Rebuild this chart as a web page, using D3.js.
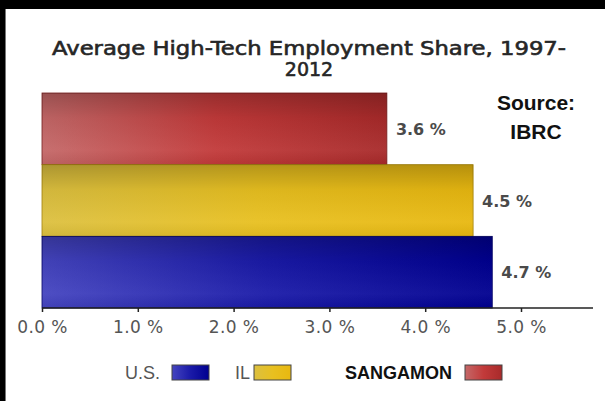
<!DOCTYPE html>
<html>
<head>
<meta charset="utf-8">
<script src="https://cdn.jsdelivr.net/npm/d3@7"></script>
<style>
  body { margin:0; padding:0; background:#fff; }
  svg { display:block; font-family: Arial, "Liberation Sans", sans-serif; }
</style>
</head>
<body>
<div id="chart"></div>
<script>
// data
var categories = ["SANGAMON", "IL", "U.S."];
var values = [3.6, 4.5, 4.7];
var xTicks = [0, 1, 2, 3, 4, 5];
var legendNames = ["U.S.", "IL", "SANGAMON"];
var titleLines = ["Average High-Tech Employment Share, 1997-", "2012"];
var sourceLines = ["Source:", "IBRC"];

var W = 605, H = 401;
var verdanaish = "'DejaVu Sans', Verdana, sans-serif";
var svg = d3.select("#chart").append("svg")
    .attr("width", W).attr("height", H);

var defs = svg.append("defs");

// gradient colours per series: left -> right
var grads = {
    "SANGAMON": {h:["#c46868","#c23a3a","#a82a2a"]},
    "IL":       {h:["#dcc040","#e8c020","#e8b810"]},
    "U.S.":     {h:["#4545c0","#1a1aa8","#000090"]}
};
var colKeys = Object.keys(grads);
colKeys.forEach(function(k, i){
    var g = defs.append("linearGradient").attr("id","gh"+i)
        .attr("x1","0").attr("y1","0").attr("x2","1").attr("y2","0");
    grads[k].h.forEach(function(c, j){
        g.append("stop").attr("offset", (j/(grads[k].h.length-1))).attr("stop-color", c);
    });
    // top shadow overlay
    var gv = defs.append("linearGradient").attr("id","gv"+i)
        .attr("x1","0").attr("y1","0").attr("x2","0").attr("y2","1");
    gv.append("stop").attr("offset",0).attr("stop-color","#000").attr("stop-opacity",0.22);
    gv.append("stop").attr("offset",0.35).attr("stop-color","#000").attr("stop-opacity",0.05);
    gv.append("stop").attr("offset",0.8).attr("stop-color","#fff").attr("stop-opacity",0.05);
    gv.append("stop").attr("offset",1).attr("stop-color","#000").attr("stop-opacity",0.05);
});
function gradIdx(name){ return colKeys.indexOf(name); }

// frame
svg.append("rect").attr("x",0).attr("y",0).attr("width",W).attr("height",9).attr("fill","#000");
svg.append("rect").attr("x",0).attr("y",0).attr("width",5).attr("height",H).attr("fill","#000");
svg.append("rect").attr("x",5).attr("y",9).attr("width",1).attr("height",H).attr("fill","#777");

// title
svg.append("g").selectAll("text").data(titleLines).enter().append("text")
    .attr("x", 309).attr("y", function(d,i){ return 55 + i*21; })
    .attr("text-anchor","middle")
    .style("font-family", verdanaish)
    .style("font-size","19px").style("font-weight","normal").style("fill","#262626")
    .style("stroke","#262626").style("stroke-width","0.6px")
    .each(function(d,i){ if(i === 0) d3.select(this).attr("textLength", 514).attr("lengthAdjust","spacingAndGlyphs"); })
    .text(function(d){ return d; });

var x = d3.scaleLinear().domain([0, 5]).range([42, 521]);
var y = d3.scaleBand().domain(categories).range([93, 308]).padding(0);

var bars = svg.append("g");
bars.selectAll("rect.bar").data(categories).enter().append("rect")
    .attr("class","bar")
    .attr("x", x(0))
    .attr("y", function(d){ return y(d); })
    .attr("width", function(d,i){ return x(values[i]) - x(0); })
    .attr("height", y.bandwidth())
    .attr("fill", function(d){ return "url(#gh"+gradIdx(d)+")"; })
    .attr("stroke", function(d){ return d3.color(grads[d].h[2]).darker(1); })
    .attr("stroke-width", 0.8);
bars.selectAll("rect.shade").data(categories).enter().append("rect")
    .attr("class","shade")
    .attr("x", x(0))
    .attr("y", function(d){ return y(d); })
    .attr("width", function(d,i){ return x(values[i]) - x(0); })
    .attr("height", y.bandwidth())
    .attr("fill", function(d){ return "url(#gv"+gradIdx(d)+")"; });

// value labels
svg.append("g").selectAll("text").data(categories).enter().append("text")
    .attr("x", function(d,i){ return x(values[i]) + 9; })
    .attr("y", function(d){ return y(d) + y.bandwidth()/2 + 6; })
    .style("font-family", verdanaish)
    .style("font-size","16px").style("font-weight","bold").style("fill","#4a4a4a")
    .text(function(d,i){ return values[i].toFixed(1) + " %"; });

// x axis
var axis = d3.axisBottom(x).tickValues(xTicks).tickSize(4).tickSizeOuter(0)
    .tickFormat(function(d){ return d3.format(".1f")(d) + " %"; });
var ax = svg.append("g").attr("transform","translate(0,308)").call(axis);
ax.select(".domain").attr("d","M42,0H593").attr("stroke","#222").attr("stroke-width",1.5);
ax.selectAll(".tick line").attr("stroke","#222").attr("stroke-width",1.5);
ax.selectAll(".tick text").attr("y", 13).attr("dy","0.71em")
    .style("font-size","17px").style("fill","#555").style("font-family", verdanaish)
    .style("letter-spacing","0.4px");

// source note
svg.append("g").selectAll("text").data(sourceLines).enter().append("text")
    .attr("x", 536).attr("y", function(d,i){ return 110 + i*29; })
    .attr("text-anchor","middle")
    .style("font-size","21px").style("font-weight","bold").style("fill","#111")
    .text(function(d){ return d; });

// legend
var legendPos = [
    {tx:125, sx:172, bold:false},
    {tx:235, sx:254, bold:false},
    {tx:345, sx:465, bold:true}
];
var lg = svg.append("g").selectAll("g").data(legendNames).enter().append("g");
lg.append("text")
    .attr("x", function(d,i){ return legendPos[i].tx; })
    .attr("y", 379)
    .style("font-size", "18px")
    .style("font-weight", function(d,i){ return legendPos[i].bold ? "bold" : "normal"; })
    .style("fill", function(d,i){ return legendPos[i].bold ? "#111" : "#555"; })
    .text(function(d){ return d; });
lg.append("rect")
    .attr("x", function(d,i){ return legendPos[i].sx; })
    .attr("y", 365).attr("width", 37).attr("height", 15)
    .attr("fill", function(d){ return "url(#gh"+gradIdx(d)+")"; })
    .attr("stroke", "#444").attr("stroke-width", 1);
</script>
</body>
</html>
